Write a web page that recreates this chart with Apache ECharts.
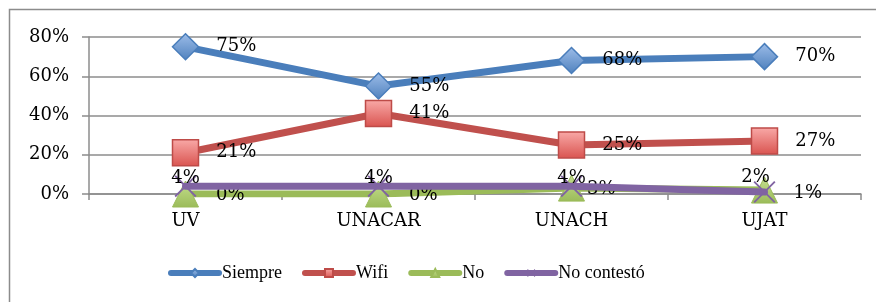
<!DOCTYPE html>
<html>
<head>
<meta charset="utf-8">
<script src="https://cdn.jsdelivr.net/npm/echarts@6/dist/echarts.min.js"></script>
<style>
  html, body { margin: 0; padding: 0; background: #fff; }
  #main { width: 876px; height: 302px; }
</style>
</head>
<body>
<div id="main"></div>
<script>
  var categories = ['UV', 'UNACAR', 'UNACH', 'UJAT'];
  var siempre = [75, 55, 68, 70];
  var wifi = [21, 41, 25, 27];
  var no = [0, 0, 3, 2];
  var noContesto = [4, 4, 4, 1];
  var yTicks = [0, 20, 40, 60, 80];

  var serif = 'DejaVu Serif';
  var labelBase = { show: true, fontFamily: serif, fontSize: 18, color: '#000', formatter: '{c}%' };

  var crossPath = 'path://M0,1.2L1.2,0L10,8.8L18.8,0L20,1.2L11.2,10L20,18.8L18.8,20L10,11.2L1.2,20L0,18.8L8.8,10Z';

  function grad(top, bottom) {
    return new echarts.graphic.LinearGradient(0, 0, 0, 1, [
      { offset: 0, color: top }, { offset: 1, color: bottom }
    ]);
  }

  var chart = echarts.init(document.getElementById('main'));

  // labels at UJAT for the two low series sit the other way round
  var noData = no.map(function (v, i) {
    if (i === 3) return { value: v, label: { position: 'inside', offset: [-9, -13] } };
    if (i === 2) return { value: v, label: { distance: 2 } };
    return v;
  });
  var ncData = noContesto.map(function (v, i) {
    if (i === 3) return { value: v, label: { position: 'right', distance: 18, offset: [0, 1] } };
    return v;
  });

  var colors = ['#4a7ebb', '#c0504d', '#9bbb59', '#8064a2'];
  var names = ['Siempre', 'Wifi', 'No', 'No contestó'];

  chart.setOption({
    animation: false,
    graphic: [{
      type: 'rect',
      shape: { x: 9.5, y: 9.5, width: 900, height: 320 },
      style: { fill: 'none', stroke: '#8c8c8c', lineWidth: 1.5 },
      silent: true
    }],
    grid: { left: 89, right: 15, top: 37, bottom: 108 },
    legend: {
      left: 163, top: 259,
      itemWidth: 48, itemHeight: 10, itemGap: 20,
      textStyle: { fontFamily: 'Liberation Serif', fontSize: 18, color: '#000', padding: [0, 0, 0, -2] },
      data: names.map(function (n, i) {
        return { name: n, lineStyle: { width: 6, cap: 'round', color: colors[i] } };
      })
    },
    xAxis: {
      type: 'category',
      data: categories,
      boundaryGap: true,
      axisLine: { lineStyle: { color: '#8c8c8c', width: 1.5 } },
      axisTick: { show: true, length: 6, lineStyle: { color: '#8c8c8c', width: 1.5 } },
      axisLabel: { fontFamily: serif, fontSize: 18, color: '#000', margin: 18 }
    },
    yAxis: {
      type: 'value',
      min: yTicks[0], max: yTicks[yTicks.length - 1], interval: 20,
      axisLine: { show: true, lineStyle: { color: '#8c8c8c', width: 1.5 } },
      axisTick: { show: true, length: 7, lineStyle: { color: '#8c8c8c', width: 1.5 } },
      splitLine: { lineStyle: { color: '#8c8c8c', width: 1.5 } },
      axisLabel: { fontFamily: serif, fontSize: 18, color: '#000', margin: 20, formatter: '{value}%' }
    },
    series: [
      {
        name: 'Siempre', type: 'line', data: siempre,
        symbol: 'diamond', symbolSize: 26,
        lineStyle: { color: colors[0], width: 7, cap: 'round' },
        itemStyle: { color: grad('#9dbde9', '#4f81bd'), borderColor: '#4a7ebb', borderWidth: 1.5 },
        label: Object.assign({}, labelBase, { position: 'right', distance: 17 }),
        z: 2
      },
      {
        name: 'Wifi', type: 'line', data: wifi,
        symbol: 'rect', symbolSize: 26,
        lineStyle: { color: colors[1], width: 7, cap: 'round' },
        itemStyle: { color: grad('#f9aaa8', '#d9534f'), borderColor: '#be4b48', borderWidth: 1.5 },
        label: Object.assign({}, labelBase, { position: 'right', distance: 17 }),
        z: 2
      },
      {
        name: 'No', type: 'line', data: noData,
        symbol: 'triangle', symbolSize: 26,
        lineStyle: { color: colors[2], width: 7, cap: 'round' },
        itemStyle: { color: grad('#c5e08f', '#9bbb59'), borderColor: '#9bbb59', borderWidth: 1 },
        label: Object.assign({}, labelBase, { position: 'right', distance: 17, offset: [0, 1] }),
        z: 3
      },
      {
        name: 'No contestó', type: 'line', data: ncData,
        symbol: crossPath, symbolSize: 22,
        lineStyle: { color: colors[3], width: 7, cap: 'round' },
        itemStyle: { color: '#8064a2' },
        label: Object.assign({}, labelBase, { position: 'inside', offset: [0, -8] }),
        z: 4
      }
    ]
  });
</script>
</body>
</html>
